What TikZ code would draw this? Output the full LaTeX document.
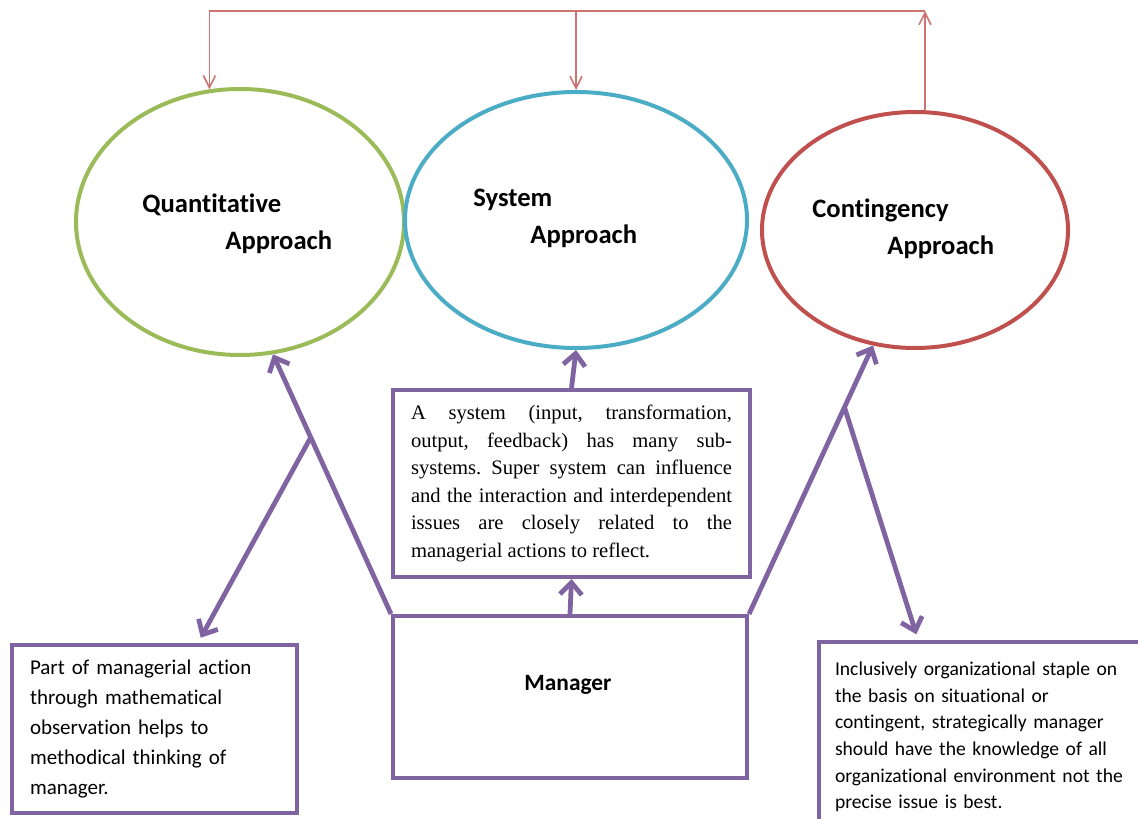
\documentclass[tikz,border=0pt]{standalone}
\usepackage{fontspec}
\setmainfont{Liberation Serif}
\newfontfamily\calibri[Ligatures=NoCommon]{Carlito}
\usetikzlibrary{shapes.geometric,arrows.meta,calc}
\definecolor{quantgreen}{HTML}{9BBB59}
\definecolor{systemblue}{HTML}{4BACC6}
\definecolor{contred}{HTML}{C0504D}
\definecolor{mgrpurple}{HTML}{8064A2}
\frenchspacing
\begin{document}
\begin{tikzpicture}
				[
					x = 0.5pt, y = -0.5pt,
					approach/.style = {ellipse, draw, line width = 2pt, inner sep = 0pt},
					heading/.style = {anchor = west, inner sep = 0pt, font = \calibri\bfseries\fontsize{13.3pt}{15pt}\selectfont},
					infobox/.style = {rectangle, draw = mgrpurple, line width = 2pt, inner ysep = 0pt},
					link/.style = {draw = mgrpurple, line width = 2.4pt, -{Straight Barb[length = 6pt, width = 11pt]}},
					feedback/.style = {draw = contred!80, line width = 0.8pt, -{Straight Barb[length = 6pt, width = 6pt]}}
				]
				\useasboundingbox (0,0) rectangle (1138,818);
				\clip (0,0) rectangle (1138,818);
				\node[approach, draw = quantgreen, minimum width = 164pt, minimum height = 133pt] (quant) at (240,222) {};
				\node[approach, draw = systemblue, minimum width = 171pt, minimum height = 128pt] (system) at (576,220) {};
				\node[approach, draw = contred, minimum width = 153pt, minimum height = 118pt] (cont) at (915,230) {};
				\node[heading] (quant1) at (142,205) {Quantitative};
				\node[heading] (quant2) at (225,242) {Approach};
				\node[heading] (system1) at (473,200) {System};
				\node[heading] (system2) at (530,236) {Approach};
				\node[heading] (cont1) at (812,210) {Contingency};
				\node[heading] (cont2) at (887,247) {Approach};
				\node[infobox, minimum width = 177pt, minimum height = 81pt] (mgr) at (570,697) {};
				\node[inner sep = 0pt, font = \calibri\bfseries\fontsize{11.7pt}{14pt}\selectfont] (mgrtext) at (568,685) {Manager};
				\node[infobox, minimum width = 178.5pt, minimum height = 93.5pt, inner xsep = 9pt, text width = 160.5pt, align = justify,
					font = \fontsize{10.3pt}{13.75pt}\selectfont] (sysbox) at (571.5,483.5)
					{A system (input, transformation,\linebreak output, feedback) has many sub-\linebreak systems. Super system can influence\linebreak and the interaction and interdependent\linebreak issues are closely related to the\linebreak managerial actions to reflect.};
				\node[infobox, minimum width = 142.5pt, minimum height = 84pt, inner xsep = 9pt, text width = 124.5pt, align = left,
					font = \calibri\fontsize{10.5pt}{15pt}\selectfont] (quantbox) at (154.5,729)
					{Part of managerial action\\through mathematical\\observation helps to\\methodical thinking of\\manager.};
				\node[infobox, anchor = north west, minimum width = 166.5pt, minimum height = 95pt, inner xsep = 8pt, text width = 150.5pt, align = left,
					font = \calibri\fontsize{9.8pt}{13.3pt}\selectfont] (contbox) at (817,640)
					{Inclusively organizational staple on\\the basis on situational or\\contingent, strategically manager\\should have the knowledge of all\\organizational environment not the\\precise issue is best.};
				\coordinate (fbtop) at (925,11);
				\coordinate (quantsplit) at ($(mgr.north west)!0.68!(quant.-76)$);
				\coordinate (contsplit) at ($(mgr.north east)!0.77!(cont.-110)$);
				\draw[link] (mgr.north west) -- (quant.-76);
				\draw[link, shorten >= 3pt] (quantsplit) -- ($(quantbox.north west)!0.65!(quantbox.north east)$);
				\draw[link] (mgr.north east) -- (cont.-110);
				\draw[link, shorten >= 3pt] (contsplit) -- ($(contbox.north west)!0.3!(contbox.north east)$);
				\draw[link] (mgr.north) -- (sysbox.south);
				\draw[link] (sysbox.north) -- (system.south);
				\draw[feedback] (cont.north -| fbtop) -- (fbtop);
				\draw[feedback] (fbtop) -| (quant.103);
				\draw[feedback] (system.north |- fbtop) -- (system.north);
		\end{tikzpicture}
\end{document}
